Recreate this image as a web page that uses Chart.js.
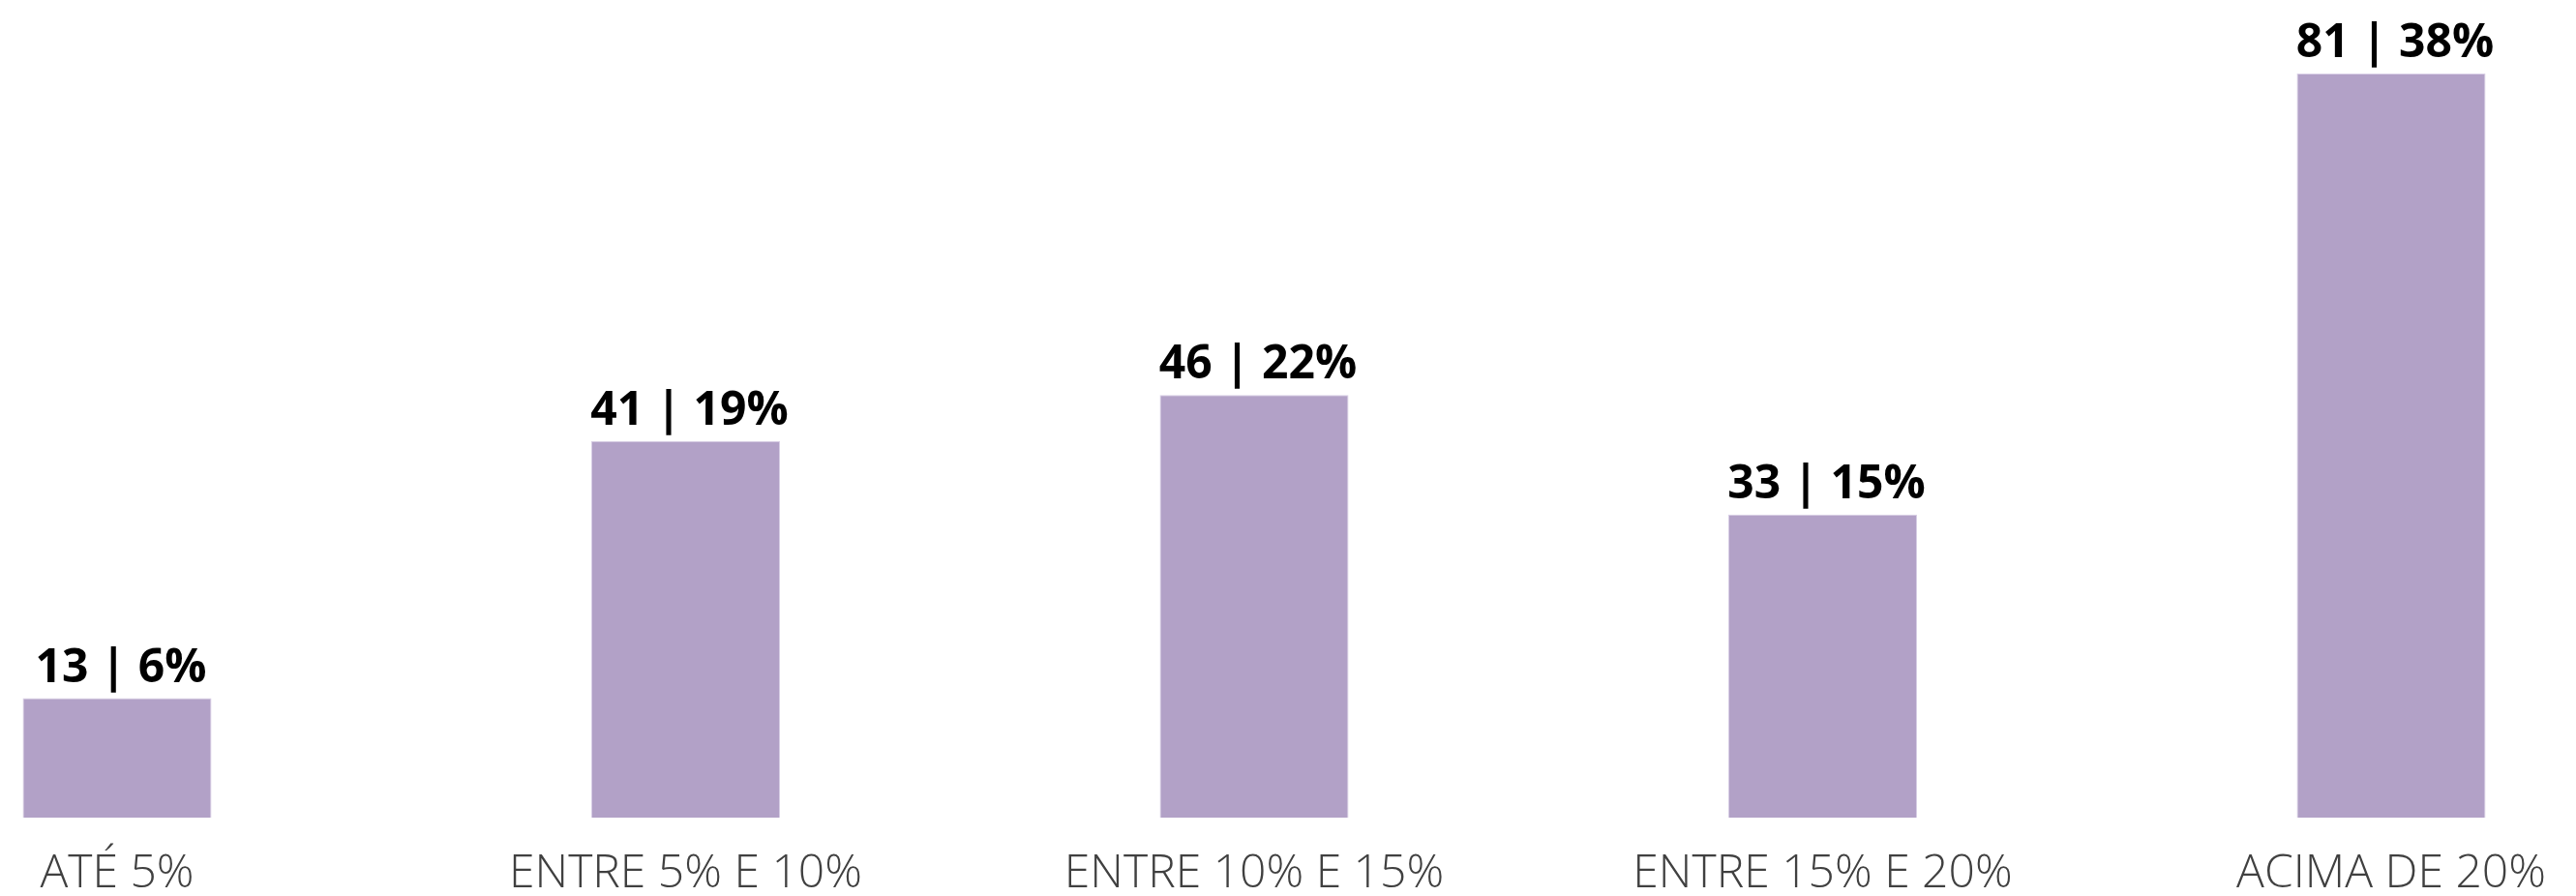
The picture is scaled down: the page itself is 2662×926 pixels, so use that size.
<!DOCTYPE html>
<html>
<head>
<meta charset="utf-8">
<script src="https://cdn.jsdelivr.net/npm/chart.js@4"></script>
<style>
  html, body { margin: 0; padding: 0; background: #ffffff; }
  #wrap { width: 2662px; height: 926px; position: relative; }
</style>
</head>
<body>
<div id="wrap"><canvas id="chart"></canvas></div>
<script>
// Distribution by range
const categories = ['ATÉ 5%', 'ENTRE 5% E 10%', 'ENTRE 10% E 15%', 'ENTRE 15% E 20%', 'ACIMA DE 20%'];
const counts = [13, 41, 46, 33, 81];
const shares = [6, 19, 22, 15, 38];

// Writes "count | share%" above each bar
const valueLabels = {
  id: 'valueLabels',
  afterDatasetsDraw(chart) {
    const ctx = chart.ctx;
    const meta = chart.getDatasetMeta(0);
    ctx.save();
    ctx.font = '700 48px "Open Sans", sans-serif';
    ctx.fillStyle = '#000000';
    ctx.textAlign = 'center';
    ctx.textBaseline = 'alphabetic';
    meta.data.forEach((bar, i) => {
      ctx.fillText(counts[i] + ' | ' + shares[i] + '%', bar.x + 4, bar.y - 17);
    });
    ctx.restore();
  }
};

new Chart(document.getElementById('chart'), {
  type: 'bar',
  data: {
    labels: categories,
    datasets: [{
      data: counts,
      backgroundColor: '#b2a1c7',
      borderColor: '#d9cfe6',
      borderWidth: 1,
      categoryPercentage: 1,
      barPercentage: 0.332,
      clip: false
    }]
  },
  options: {
    responsive: true,
    maintainAspectRatio: false,
    animation: false,
    layout: { padding: { left: 121, right: 191, top: 76, bottom: 0 } },
    plugins: { legend: { display: false }, tooltip: { enabled: false } },
    scales: {
      x: {
        offset: false,
        grid: { display: false, drawTicks: false },
        border: { display: false },
        afterFit(scale) { scale.height = 81; },
        ticks: {
          color: '#404040',
          padding: 30,
          maxRotation: 0,
          autoSkip: false,
          font: { family: '"Open Sans", sans-serif', size: 48, weight: '300' }
        }
      },
      y: {
        display: false,
        min: 0,
        max: 81
      }
    }
  },
  plugins: [valueLabels]
});
</script>
</body>
</html>
